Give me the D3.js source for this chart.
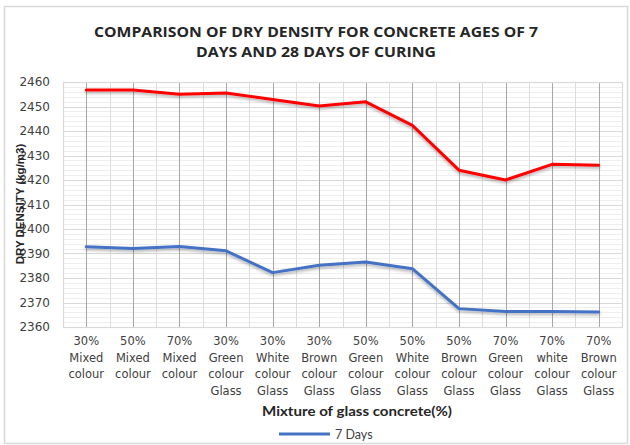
<!DOCTYPE html>
<html>
<head>
<meta charset="utf-8">
<script src="https://cdn.jsdelivr.net/npm/d3@7"></script>
<style>
  html, body { margin: 0; padding: 0; background: #fff; }
  svg { display: block; }
</style>
</head>
<body>
<svg id="chart" width="630" height="445"></svg>
<script>
// ---- Data ----
const categories = [
  ["30%", "Mixed", "colour"],
  ["50%", "Mixed", "colour"],
  ["70%", "Mixed", "colour"],
  ["30%", "Green", "colour", "Glass"],
  ["30%", "White", "colour", "Glass"],
  ["30%", "Brown", "colour", "Glass"],
  ["50%", "Green", "colour", "Glass"],
  ["50%", "White", "colour", "Glass"],
  ["50%", "Brown", "colour", "Glass"],
  ["70%", "Green", "colour", "Glass"],
  ["70%", "white", "colour", "Glass"],
  ["70%", "Brown", "colour", "Glass"]
];
const days7 = [2392.8, 2392.0, 2392.9, 2391.1, 2382.2, 2385.2, 2386.5, 2383.8, 2367.5, 2366.3, 2366.3, 2366.1];
const days28 = [2456.7, 2456.7, 2455.0, 2455.5, 2452.9, 2450.2, 2451.9, 2442.3, 2424.0, 2420.0, 2426.4, 2426.0];
const yTicks = [2360, 2370, 2380, 2390, 2400, 2410, 2420, 2430, 2440, 2450, 2460];
const titleLines = ["COMPARISON OF DRY DENSITY FOR CONCRETE AGES OF 7", "DAYS AND 28 DAYS OF CURING"];
const yTitle = "DRY DENSITY (kg/m3)";
const xTitle = "Mixture of glass concrete(%)";
const legendLabel = "7 Days";

// ---- Layout ----
const svg = d3.select("#chart");
const plot = { left: 63, right: 622, top: 82, bottom: 327 };

const x = d3.scaleBand().domain(d3.range(categories.length)).range([plot.left, plot.right]).padding(0);
const y = d3.scaleLinear().domain([2360, 2460]).range([plot.bottom, plot.top]);
const cx = i => x(i) + x.bandwidth() / 2;

// outer border
svg.append("rect").attr("x", 4.5).attr("y", 6.5).attr("width", 623).attr("height", 437)
  .attr("fill", "#fff").attr("stroke", "#d9d9d9").attr("stroke-width", 1.5);

// shadow filter
const defs = svg.append("defs");
const f = defs.append("filter").attr("id", "sh").attr("x", "-5%").attr("y", "-20%").attr("width", "110%").attr("height", "160%");
f.append("feDropShadow").attr("dx", 0).attr("dy", 2).attr("stdDeviation", 1.5).attr("flood-color", "#000").attr("flood-opacity", 0.3);

const g = svg.append("g");

// minor horizontal gridlines every 2
const minorY = d3.range(2362, 2460, 2).filter(v => v % 10 !== 0);
g.selectAll("line.hminor").data(minorY).join("line")
  .attr("x1", plot.left).attr("x2", plot.right)
  .attr("y1", d => Math.round(y(d)) + 0.5).attr("y2", d => Math.round(y(d)) + 0.5)
  .attr("stroke", "#eeeeee").attr("stroke-width", 1);

// major horizontal gridlines
g.selectAll("line.hmajor").data(yTicks).join("line")
  .attr("x1", plot.left).attr("x2", plot.right)
  .attr("y1", d => Math.round(y(d)) + 0.5).attr("y2", d => Math.round(y(d)) + 0.5)
  .attr("stroke", "#d9d9d9").attr("stroke-width", 1);

// minor vertical gridlines at band boundaries
const bounds = d3.range(categories.length + 1).map(i => plot.left + i * x.bandwidth());
g.selectAll("line.vminor").data(bounds).join("line")
  .attr("x1", d => Math.round(d) + 0.5).attr("x2", d => Math.round(d) + 0.5)
  .attr("y1", plot.top).attr("y2", plot.bottom)
  .attr("stroke", "#dcdcdc").attr("stroke-width", 1);

// major vertical gridlines at category centers
g.selectAll("line.vmajor").data(d3.range(categories.length)).join("line")
  .attr("x1", d => Math.round(cx(d)) + 0.5).attr("x2", d => Math.round(cx(d)) + 0.5)
  .attr("y1", plot.top).attr("y2", plot.bottom)
  .attr("stroke", "#a6a6a6").attr("stroke-width", 1);

// plot border
g.append("rect").attr("x", plot.left + 0.5).attr("y", plot.top + 0.5)
  .attr("width", plot.right - plot.left).attr("height", plot.bottom - plot.top)
  .attr("fill", "none").attr("stroke", "#d9d9d9").attr("stroke-width", 1.2);

// y axis (tick labels only)
const yAxis = d3.axisLeft(y).tickValues(yTicks).tickSize(0).tickPadding(13).tickFormat(d3.format("d"));
const ya = svg.append("g").attr("transform", `translate(${plot.left},0)`).call(yAxis);
ya.select(".domain").remove();
ya.selectAll("text").attr("font-family", "DejaVu Sans, sans-serif").attr("font-size", 12).attr("fill", "#404040");

// x axis labels (multi-line)
const xAxis = d3.axisBottom(x).tickSize(0).tickFormat("");
const xa = svg.append("g").attr("transform", `translate(0,${plot.bottom})`).call(xAxis);
xa.select(".domain").remove();
xa.selectAll(".tick").each(function(d) {
  const t = d3.select(this).append("text")
    .attr("text-anchor", "middle")
    .attr("font-family", "DejaVu Sans, sans-serif")
    .attr("font-size", 11.5)
    .attr("fill", "#404040");
  categories[d].forEach((line, k) => {
    t.append("tspan").attr("x", 0).attr("y", 18 + k * 16.5).text(line);
  });
});

// lines
const lineGen = d3.line().x((d, i) => cx(i)).y(d => y(d));
svg.append("path").datum(days7).attr("d", lineGen)
  .attr("fill", "none").attr("stroke", "#4472c4").attr("stroke-width", 3)
  .attr("stroke-linejoin", "round").attr("stroke-linecap", "round").attr("filter", "url(#sh)");
svg.append("path").datum(days28).attr("d", lineGen)
  .attr("fill", "none").attr("stroke", "#ff0000").attr("stroke-width", 3)
  .attr("stroke-linejoin", "round").attr("stroke-linecap", "round").attr("filter", "url(#sh)");

// title
const titleLen = [444, 240];
svg.append("g").selectAll("text").data(titleLines).join("text")
  .attr("x", 316).attr("y", (d, i) => 37 + i * 20)
  .attr("text-anchor", "middle")
  .attr("font-family", "Open Sans, sans-serif").attr("font-weight", "bold").attr("font-size", 14)
  .attr("textLength", (d, i) => titleLen[i]).attr("lengthAdjust", "spacingAndGlyphs")
  .attr("fill", "#262626")
  .text(d => d);

// y title
svg.append("text")
  .attr("transform", "translate(24,204) rotate(-90)")
  .attr("text-anchor", "middle")
  .attr("font-family", "Liberation Sans, sans-serif").attr("font-weight", "bold").attr("font-size", 11.5)
  .attr("fill", "#262626")
  .text(yTitle);

// x title
svg.append("text")
  .attr("x", 357).attr("y", 416)
  .attr("text-anchor", "middle")
  .attr("font-family", "Lato, sans-serif").attr("font-weight", "bold").attr("font-size", 14)
  .attr("textLength", 190).attr("lengthAdjust", "spacingAndGlyphs")
  .attr("fill", "#262626")
  .text(xTitle);

// legend
svg.append("line").attr("x1", 279).attr("x2", 330).attr("y1", 434).attr("y2", 434)
  .attr("stroke", "#4472c4").attr("stroke-width", 3);
svg.append("text").attr("x", 335).attr("y", 438.5)
  .attr("font-family", "Lato, sans-serif").attr("font-size", 12.5).attr("fill", "#404040")
  .text(legendLabel);
</script>
</body>
</html>
